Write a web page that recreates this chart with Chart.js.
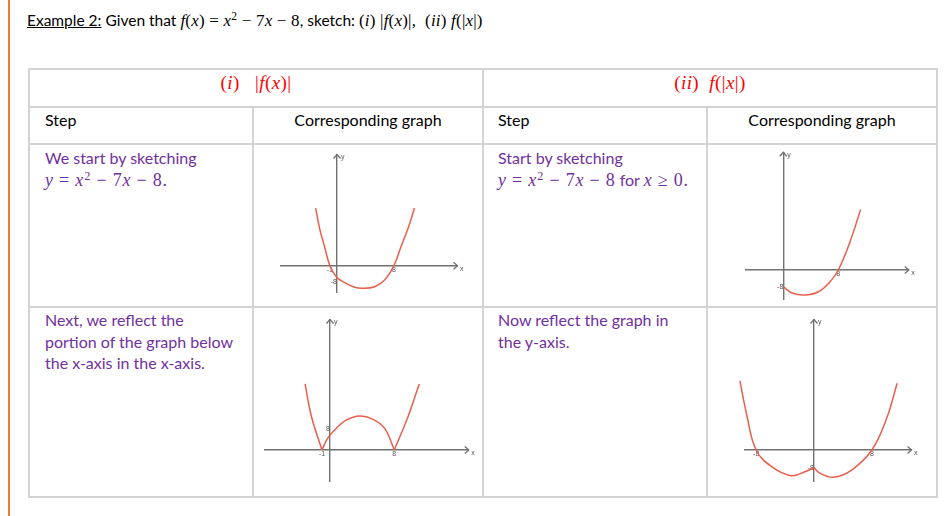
<!DOCTYPE html>
<html>
<head>
<meta charset="utf-8">
<title>Example 2</title>
<script src="https://cdn.jsdelivr.net/npm/chart.js@4.4.1/dist/chart.umd.min.js"></script>
<style>
  html, body { margin: 0; padding: 0; background: #fff; }
  body { position: relative; width: 944px; height: 516px; overflow: hidden;
         font-family: Lato, "Open Sans", sans-serif; font-size: 16px; color: #000; }
  .bar { position: absolute; left: 8px; top: 0; width: 2px; height: 516px; background: #ed7d31; }
  .h, .v { position: absolute; background: #d3d3d3; }
  .h { height: 2px; left: 28px; width: 910px; }
  .v { width: 2px; }
  .t { position: absolute; white-space: nowrap; line-height: 21.5px; }
  .c { text-align: center; }
  .m { font-family: "Liberation Serif", "DejaVu Serif", serif; font-size: 18px; letter-spacing: 0.8px; }
  .m i { font-style: italic; }
  .m sup { font-size: 0.68em; line-height: 0; vertical-align: 0.5em; }
  .big { font-size: 19px; letter-spacing: 0.4px; }
  .head { font-size: 15.5px; }
  .head .m { font-size: 17px; letter-spacing: 0.2px; }
  .red { color: #ff0000; }
  .pur { color: #7030a0; }
  canvas { position: absolute; }
</style>
</head>
<body>
<div class="bar"></div>
<div class="h" style="top:68px"></div>
<div class="h" style="top:106px"></div>
<div class="h" style="top:143px"></div>
<div class="h" style="top:306px"></div>
<div class="h" style="top:496px"></div>
<div class="v" style="left:28px; top:68px; height:430px"></div>
<div class="v" style="left:482px; top:68px; height:430px"></div>
<div class="v" style="left:936px; top:68px; height:430px"></div>
<div class="v" style="left:252px; top:106px; height:392px"></div>
<div class="v" style="left:706px; top:106px; height:392px"></div>

<div class="t head" style="left:27px; top:10px"><u>Example 2:</u> Given that <span class="m"><i>f</i>(<i>x</i>)&#8197;=&#8197;<i>x</i><sup>2</sup>&#8197;−&#8197;7<i>x</i>&#8197;−&#8197;8</span>, sketch: <span class="m">(<i>i</i>)&#8197;|<i>f</i>(<i>x</i>)|,&#8197; (<i>ii</i>)&#8197;<i>f</i>(|<i>x</i>|)</span></div>

<div class="t c m big red" style="left:29px; width:454px; top:72px">(<i>i</i>)&nbsp;&nbsp; |<i>f</i>(<i>x</i>)|</div>
<div class="t c m big red" style="left:483px; width:454px; top:72px">(<i>ii</i>)&nbsp;&nbsp;<i>f</i>(|<i>x</i>|)</div>

<div class="t" style="left:45px; top:109px">Step</div>
<div class="t c" style="left:253px; width:230px; top:109px">Corresponding graph</div>
<div class="t" style="left:498px; top:109px">Step</div>
<div class="t c" style="left:707px; width:230px; top:109px">Corresponding graph</div>

<div class="t pur" style="left:45px; top:147px">We start by sketching<br><span class="m"><i>y</i>&#8197;=&#8197;<i>x</i><sup>2</sup>&#8197;−&#8197;7<i>x</i>&#8197;−&#8197;8.</span></div>
<div class="t pur" style="left:498px; top:147px">Start by sketching<br><span class="m"><i>y</i>&#8197;=&#8197;<i>x</i><sup>2</sup>&#8197;−&#8197;7<i>x</i>&#8197;−&#8197;8</span> for <span class="m"><i>x</i>&#8197;≥&#8197;0.</span></div>
<div class="t pur" style="left:45px; top:309px">Next, we reflect the<br>portion of the graph below<br>the x-axis in the x-axis.</div>
<div class="t pur" style="left:498px; top:309px">Now reflect the graph in<br>the y-axis.</div>

<canvas id="c1"></canvas>
<canvas id="c2"></canvas>
<canvas id="c3"></canvas>
<canvas id="c4"></canvas>

<script>
// SKETCH READINGS (x, y pairs per curve piece)
// graph 1: y = x^2 - 7x - 8
const g1X = [-3.0, -2.45, -1.75, -1.0, -0.1, 0.85, 2.5, 3.6, 5.3, 6.7, 8.0, 9.0, 10.0, 10.9];
const g1Y = [28.8, 18.7, 9.5, 0, -5.5, -8.0, -10.8, -11.3, -10.5, -7.2, 0, 9.5, 18.7, 28.8];
const g1XTicks = [-1, 8];
const g1YTicks = [-8];

// graph 2: |f(x)|, three pieces meeting at the roots
const g2LeftX = [-3.1, -2.3, -1.0];
const g2LeftY = [25.4, 12.8, 0];
const g2MidX = [-1.0, -0.3, 0.7, 2.0, 3.7, 5.3, 6.8, 8.0];
const g2MidY = [0, 4.5, 8.1, 11.5, 13.1, 11.9, 8.3, 0];
const g2RightX = [8.0, 9.7, 11.1];
const g2RightY = [0, 12.8, 25.4];
const g2XTicks = [-1, 8];
const g2YTicks = [8];

// graph 3: f(x) for x >= 0
const g3X = [0, 1.2, 3.05, 5.1, 6.8, 8.0, 9.6, 11.25];
const g3Y = [-8.0, -10.9, -12.0, -10.4, -5.6, 0, 12.5, 29.0];
const g3XTicks = [8];
const g3YTicks = [-8];

// graph 4: f(|x|), two halves meeting on the y-axis
const g4LeftX = [-10.25, -9.3, -8.0, -5.85, -3.2, -1.25, 0];
const g4LeftY = [31.4, 15.9, 0, -7.6, -11.7, -9.9, -8.0];
const g4RightX = [0, 0.85, 2.7, 5.2, 8.0, 10.05, 11.5];
const g4RightY = [-8.0, -10.6, -12.4, -9.1, 0, 14.4, 30.3];
const g4XTicks = [-8, 8];
const g4YTicks = [-8];

const axisColor = "#717171";
const curveColor = "#e8604d";
const tickColor = "#555";

// ARROW HEADS + AXIS NAMES
const arrowPlugin = {
  id: "arrows",
  afterDraw(chart) {
    const { ctx, chartArea: a, scales } = chart;
    const px = scales.x.getPixelForValue(0);
    const py = scales.y.getPixelForValue(0);
    ctx.save();
    ctx.strokeStyle = axisColor;
    ctx.lineWidth = 1.3;
    ctx.beginPath();
    ctx.moveTo(a.right - 3.5, py - 3.5);
    ctx.lineTo(a.right + 0.5, py);
    ctx.lineTo(a.right - 3.5, py + 3.5);
    ctx.moveTo(px - 3.5, a.top + 3.5);
    ctx.lineTo(px, a.top - 0.5);
    ctx.lineTo(px + 3.5, a.top + 3.5);
    ctx.stroke();
    ctx.fillStyle = tickColor;
    ctx.font = '7px "Liberation Sans"';
    ctx.textBaseline = "middle";
    ctx.fillText("x", a.right + 3, py + 3);
    ctx.fillText("y", px + 4, a.top + 2);
    ctx.restore();
  },
};

function drawGraph(id, box, area, origin, unit, pieces, xTicks, yTicks) {
  const canvas = document.getElementById(id);
  canvas.width = box[2];
  canvas.height = box[3];
  canvas.style.left = box[0] + "px";
  canvas.style.top = box[1] + "px";
  const [left, top, right, bottom] = area;

  const datasets = pieces.map((p) => ({
    data: p[0].map((x, i) => ({ x: x, y: p[1][i] })),
    showLine: true,
    borderColor: curveColor,
    borderWidth: 1.5,
    pointRadius: 0,
    tension: 0.4,
    clip: false,
  }));

  const tickFont = { size: 7, family: "Liberation Sans" };

  new Chart(canvas, {
    type: "scatter",
    data: { datasets: datasets },
    options: {
      responsive: false,
      animation: false,
      events: [],
      layout: {
        padding: {
          left: left - box[0],
          top: top - box[1],
          right: box[0] + box[2] - right,
          bottom: box[1] + box[3] - bottom,
        },
      },
      plugins: { legend: { display: false }, tooltip: { enabled: false } },
      scales: {
        x: {
          type: "linear",
          min: (left - origin[0]) / unit[0],
          max: (right - origin[0]) / unit[0],
          position: { y: 0 },
          grid: { display: false, drawTicks: false },
          border: { display: true, color: axisColor, width: 1.4 },
          afterBuildTicks: (s) => { s.ticks = xTicks.map((v) => ({ value: v })); },
          ticks: { color: tickColor, font: tickFont, padding: 0, maxRotation: 0, autoSkip: false },
        },
        y: {
          type: "linear",
          min: -(bottom - origin[1]) / unit[1],
          max: (origin[1] - top) / unit[1],
          position: { x: 0 },
          grid: { display: false, drawTicks: false },
          border: { display: true, color: axisColor, width: 1.4 },
          afterBuildTicks: (s) => { s.ticks = yTicks.map((v) => ({ value: v })); },
          ticks: { color: tickColor, font: tickFont, padding: 0, autoSkip: false },
        },
      },
    },
    plugins: [arrowPlugin],
  });
}

drawGraph("c1", [254, 145, 228, 161], [281, 155, 457, 292.7], [337, 265.7], [7.11, 2],
  [[g1X, g1Y]], g1XTicks, g1YTicks);
drawGraph("c2", [254, 308, 228, 188], [265, 320, 468.3, 481], [330, 450], [8.04, 2.6],
  [[g2LeftX, g2LeftY], [g2MidX, g2MidY], [g2RightX, g2RightY]], g2XTicks, g2YTicks);
drawGraph("c3", [708, 145, 228, 161], [745.7, 152.7, 908.3, 299.3], [783.3, 270], [6.875, 2.09],
  [[g3X, g3Y]], g3XTicks, g3YTicks);
drawGraph("c4", [708, 308, 228, 188], [744.3, 320, 911, 481.7], [814, 450], [7.23, 2.2],
  [[g4LeftX, g4LeftY], [g4RightX, g4RightY]], g4XTicks, g4YTicks);
</script>
</body>
</html>
